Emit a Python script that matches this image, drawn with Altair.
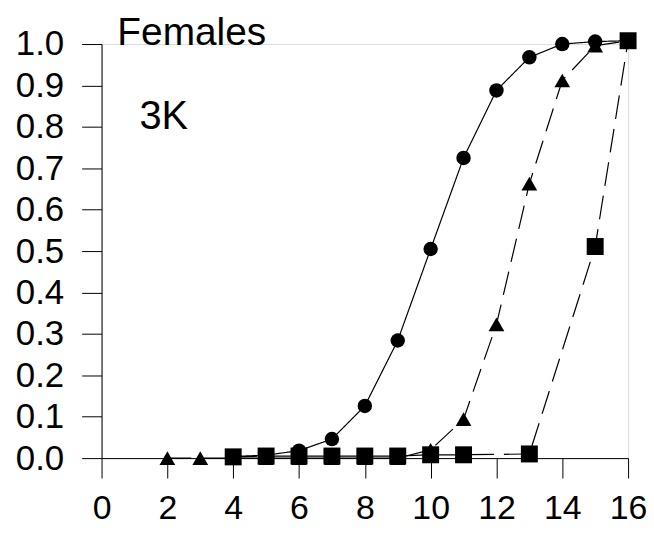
import altair as alt
import pandas as pd

# Series
circle_x = [4, 5, 6, 7, 8, 9, 10, 11, 12, 13, 14, 15, 16]
circle_y = [0.004, 0.007, 0.018, 0.046, 0.126, 0.284, 0.505, 0.725, 0.888, 0.968, 1.0, 1.006, 1.008]

tri_x = [2, 3, 4, 5, 6, 7, 8, 9, 10, 11, 12, 13, 14, 15, 16]
tri_y = [0.0, 0.0, 0.0, 0.0, 0.0, 0.0, 0.0, 0.0, 0.02, 0.094, 0.323, 0.663, 0.912, 0.996, 1.008]

sq_x = [4, 5, 6, 7, 8, 9, 10, 11, 13, 15, 16]
sq_y = [0.003, 0.005, 0.005, 0.005, 0.005, 0.005, 0.008, 0.008, 0.01, 0.511, 1.008]

series_names = ["circle", "triangle", "square"]

x_ticks = [0, 2, 4, 6, 8, 10, 12, 14, 16]
y_ticks = [0.0, 0.1, 0.2, 0.3, 0.4, 0.5, 0.6, 0.7, 0.8, 0.9, 1.0]

labels_text = ["Females", "3K"]
labels_x = [0.48, 1.15]
labels_y = [0.997, 0.796]
labels_size = [39, 40]

rows = []
for name, xs, ys in zip(series_names, [circle_x, tri_x, sq_x], [circle_y, tri_y, sq_y]):
    for xv, yv in zip(xs, ys):
        rows.append({"series": name, "x": xv, "y": yv})
df = pd.DataFrame(rows)

ann = pd.DataFrame({"text": labels_text, "x": labels_x, "y": labels_y, "size": labels_size})

xscale = alt.Scale(domain=[0, 16], nice=False, zero=False)
yscale = alt.Scale(domain=[0, 1], nice=False)

xenc = alt.X("x:Q", scale=xscale,
             axis=alt.Axis(values=x_ticks, title=None, grid=False, labelFontSize=34,
                           labelFont="Liberation Sans", labelColor="black",
                           tickSize=20, tickColor="black", domainColor="black",
                           labelPadding=14, labelFlush=False, labelOverlap=False))
yenc = alt.Y("y:Q", scale=yscale,
             axis=alt.Axis(values=y_ticks, format=".1f", title=None, grid=False,
                           labelFontSize=35, labelFont="Liberation Sans", labelColor="black",
                           tickSize=20, tickColor="black", domainColor="black",
                           labelPadding=18, labelFlush=False, labelOverlap=False))

base = alt.Chart(df)

lines = base.mark_line(color="black", strokeWidth=1.2, clip=False).encode(
    x=xenc, y=yenc,
    detail="series:N",
    strokeDash=alt.StrokeDash("series:N",
                              scale=alt.Scale(domain=series_names, range=[[1, 0], [24, 10], [24, 10]]),
                              legend=None),
)

points = base.mark_point(filled=True, color="black", opacity=1, clip=False).encode(
    x=alt.X("x:Q", scale=xscale),
    y=alt.Y("y:Q", scale=yscale),
    shape=alt.Shape("series:N",
                    scale=alt.Scale(domain=series_names, range=["circle", "triangle-up", "square"]),
                    legend=None),
    size=alt.Size("series:N",
                  scale=alt.Scale(domain=series_names, range=[210, 290, 220]),
                  legend=None),
)

texts = alt.Chart(ann).mark_text(align="left", baseline="alphabetic", font="Liberation Sans",
                                 color="black", clip=False).encode(
    x=alt.X("x:Q", scale=xscale),
    y=alt.Y("y:Q", scale=yscale),
    text="text:N",
    size=alt.Size("size:Q", scale=None, legend=None),
)

chart = alt.layer(lines, points, texts).properties(
    width=529, height=416,
    padding={"left": 94, "top": 35, "right": 18, "bottom": 67},
    autosize=alt.AutoSizeParams(type="none"),
).configure_view(stroke=None).configure(background="white")

chart.save("out.html", embed_options={"renderer": "svg", "actions": False})
